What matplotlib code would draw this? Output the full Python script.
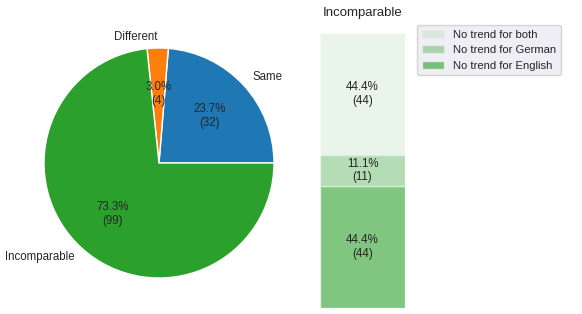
import matplotlib
matplotlib.use("Agg")
import matplotlib.pyplot as plt
import seaborn as sns

sns.set_style("darkgrid")
plt.rcParams["font.family"] = ["Liberation Sans", "DejaVu Sans"]

# pie data
pie_labels = ["Same", "Different", "Incomparable"]
pie_counts = [32, 4, 99]

# stacked bar data (bottom to top)
bar_labels = ["No trend for English", "No trend for German", "No trend for both"]
bar_counts = [44, 11, 44]
bar_alphas = [0.6, 0.35, 0.1]

fig = plt.figure(figsize=(5.82, 3.14), dpi=100)

#pie on the left
ax1 = fig.add_axes([44/582, 36/314, 230/582, 230/314])
total = sum(pie_counts)
def fmt(pct):
    return "{:.1f}%\n({:d})".format(pct, int(round(pct*total/100)))
ax1.pie(pie_counts, labels=pie_labels, autopct=fmt, startangle=0,
        colors=["tab:blue", "tab:orange", "tab:green"],
        wedgeprops=dict(edgecolor="white", linewidth=1),
        textprops=dict(fontsize=8.3, color="#262626"))
ax1.set_xlim(-1, 1)
ax1.set_ylim(-1, 1)

#stacked bar on the right
ax2 = fig.add_axes([320/582, 6/314, 85/582, 275/314])
btotal = sum(bar_counts)
bottom = 0
handles = []
for lab, c, a in zip(bar_labels, bar_counts, bar_alphas):
    b = ax2.bar(0, c, bottom=bottom, width=0.8, color="tab:green", alpha=a, label=lab)
    handles.append(b)
    ax2.text(0, bottom + c/2, "{:.1f}%\n({:d})".format(100*c/btotal, c),
             ha="center", va="center", fontsize=8.3, color="#262626")
    bottom += c
ax2.set_xlim(-0.4, 0.4)
ax2.set_ylim(0, btotal)
ax2.axis("off")
ax2.set_title("Incomparable", fontsize=9.5, pad=12)

fig.legend(handles[::-1], bar_labels[::-1], loc="upper left",
           bbox_to_anchor=(417/582, 1 - 25/314), borderaxespad=0, fontsize=8.1)

fig.savefig("out.png", dpi=100)
